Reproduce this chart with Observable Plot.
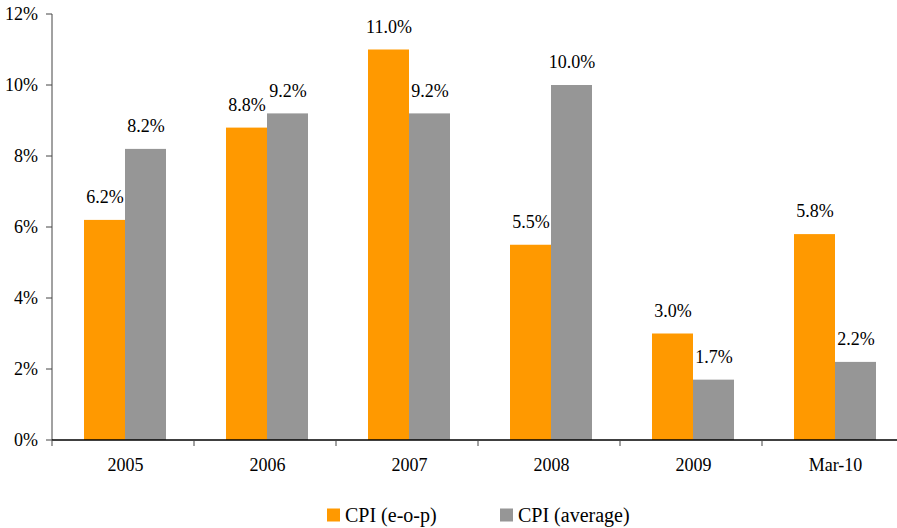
<!DOCTYPE html>
<html>
<head>
<meta charset="utf-8">
<script src="https://cdn.jsdelivr.net/npm/d3@7"></script>
<script src="https://cdn.jsdelivr.net/npm/@observablehq/plot@0.6"></script>
<style>
  body { margin: 0; background: #fff; }
  #chart svg { display: block; overflow: visible; }
  .legend { position: relative; height: 48px; font-family: "Liberation Serif", "Times New Roman", serif; font-size: 20px; color: #000; }
  .legend .item { position: absolute; top: 35px; display: flex; align-items: center; transform: translateY(-50%); }
  .legend .sw { width: 13px; height: 13px; margin-right: 5px; }
</style>
</head>
<body>
<div id="chart"></div>
<div class="legend" id="legend"></div>
<script>
const years = ["2005", "2006", "2007", "2008", "2009", "Mar-10"];
const series = ["CPI (e-o-p)", "CPI (average)"];
const cpiEop = [6.2, 8.8, 11.0, 5.5, 3.0, 5.8];
const cpiAvg = [8.2, 9.2, 9.2, 10.0, 1.7, 2.2];
const yTicks = [0, 2, 4, 6, 8, 10, 12];
const colors = ["#FF9900", "#969696"];

const data = years.flatMap((y, i) => [
  {year: y, series: series[0], value: cpiEop[i]},
  {year: y, series: series[1], value: cpiAvg[i]}
]);

const FONT = "'Liberation Serif', 'Times New Roman', serif";

const chart = Plot.plot({
  width: 897,
  height: 480,
  marginLeft: 52,
  marginRight: -12,
  marginTop: 14,
  marginBottom: 40,
  style: {fontFamily: FONT, fontSize: "18px", color: "#000", background: "#fff"},
  fx: {domain: years, paddingInner: 0.42, paddingOuter: 0.21, label: null, tickSize: 0, tickPadding: 18},
  x: {domain: series, padding: 0, axis: null},
  y: {domain: [0, 12], axis: null},
  color: {domain: series, range: colors},
  marks: [
    Plot.barY(data, {fx: "year", x: "series", y: "value", fill: "series"}),
    Plot.text(data, {fx: "year", x: "series", y: "value", text: d => d.value.toFixed(1) + "%", dy: -23, fill: "#000", fontSize: 18})
  ]
});

// full-width axis lines, y axis and category boundary ticks
const svg = d3.select(chart);
const fx = chart.scale("fx");
const y = chart.scale("y");
const x0 = fx.range[0], x1 = fx.range[1];
const y0 = y.apply(0), yTop = y.apply(12);
const ys = d3.scaleLinear().domain(y.domain).range(y.range);
const yAxis = svg.append("g").attr("transform", `translate(${x0},0)`);
yTicks.forEach(t => {
  const yy = ys(t);
  yAxis.append("line").attr("x1", -6).attr("x2", 0).attr("y1", yy).attr("y2", yy).attr("stroke", "#444");
  yAxis.append("text").attr("x", -14).attr("y", yy).attr("dy", "0.32em").attr("text-anchor", "end")
    .attr("font-family", FONT).attr("font-size", 18).attr("fill", "#000").text(t + "%");
});
svg.append("line").attr("x1", x0).attr("x2", x0).attr("y1", yTop).attr("y2", y0).attr("stroke", "#444").attr("stroke-width", 1);
svg.append("line").attr("x1", x0).attr("x2", x1).attr("y1", y0).attr("y2", y0).attr("stroke", "#000").attr("stroke-width", 1.5);
for (let k = 0; k <= years.length; k++) {
  const xx = x0 + k * fx.step;
  svg.append("line").attr("x1", xx).attr("x2", xx).attr("y1", y0).attr("y2", y0 + 6).attr("stroke", "#444");
}
document.getElementById("chart").appendChild(chart);

const legend = document.getElementById("legend");
const lefts = [327, 500];
series.forEach((s, i) => {
  const it = document.createElement("div");
  it.className = "item";
  it.style.left = lefts[i] + "px";
  it.innerHTML = `<span class="sw" style="background:${colors[i]}"></span><span>${s}</span>`;
  legend.appendChild(it);
});
</script>
</body>
</html>
